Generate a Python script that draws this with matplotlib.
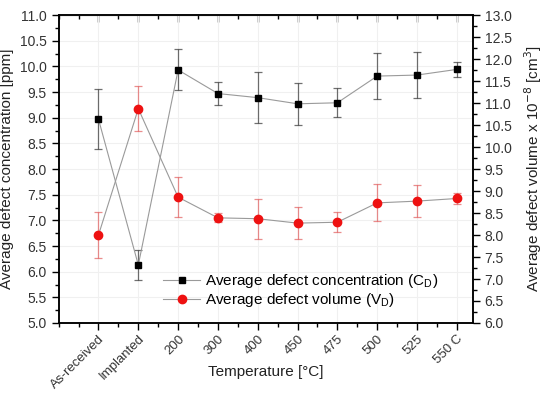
import numpy as np
import matplotlib
matplotlib.use("Agg")
import matplotlib.pyplot as plt
import matplotlib.transforms as mtransforms
from matplotlib.ticker import MultipleLocator, FormatStrFormatter

plt.rcParams['font.family'] = ['Liberation Sans', 'DejaVu Sans']

labels = ['As-received', 'Implanted', '200', '300', '400', '450', '475', '500', '525', '550 C']

# average defect concentration C_D [ppm] (left axis)
conc = [8.97, 6.13, 9.93, 9.47, 9.39, 9.27, 9.29, 9.81, 9.83, 9.94]
conc_err = [0.59, 0.29, 0.40, 0.23, 0.50, 0.41, 0.28, 0.45, 0.45, 0.15]

# average defect volume V_D x 1e-8 cm^3 (right axis)
vol = [8.00, 10.87, 8.86, 8.39, 8.37, 8.27, 8.29, 8.73, 8.77, 8.83]
vol_err = [0.52, 0.51, 0.45, 0.10, 0.45, 0.37, 0.23, 0.42, 0.36, 0.12]

x = np.arange(len(labels))

fig = plt.figure(figsize=(5.5, 3.97), dpi=100)
ax = fig.add_axes([0.1067, 0.1864, 0.7528, 0.7758])
ax2 = ax.twinx()

# error bars first (faint), then lines and markers
ax.errorbar(x, conc, yerr=conc_err, fmt='none', ecolor='#333333', elinewidth=0.9,
            capsize=3, capthick=0.9, alpha=0.7, zorder=2)
l1, = ax.plot(x, conc, color='#9a9a9a', lw=0.8, marker='s', ms=4.5,
              mfc='black', mec='black', zorder=3,
              label='Average defect concentration (C$_\\mathregular{D}$)')

ax2.errorbar(x, vol, yerr=vol_err, fmt='none', ecolor='#e05050', elinewidth=0.9,
             capsize=3, capthick=0.9, alpha=0.65, zorder=2)
l2, = ax2.plot(x, vol, color='#9a9a9a', lw=0.8, marker='o', ms=6,
               mfc='#ee1111', mec='#ee1111', zorder=3,
               label='Average defect volume (V$_\\mathregular{D}$)')

ax.set_xlim(-1, 9.4)
ax.set_ylim(5.0, 11.0)
ax2.set_ylim(6.0, 13.0)

ax.set_xticks(x)
ax.set_xticklabels(labels, rotation=45, ha='right', rotation_mode='anchor')
shift = mtransforms.ScaledTranslation(0.12, -0.03, fig.dpi_scale_trans)
for lab in ax.get_xticklabels():
    lab.set_transform(lab.get_transform() + shift)
ax.xaxis.set_minor_locator(MultipleLocator(0.5))
ax.yaxis.set_major_locator(MultipleLocator(0.5))
ax.yaxis.set_minor_locator(MultipleLocator(0.25))
ax2.yaxis.set_major_locator(MultipleLocator(0.5))
ax2.yaxis.set_minor_locator(MultipleLocator(0.25))
ax.yaxis.set_major_formatter(FormatStrFormatter('%.1f'))
ax2.yaxis.set_major_formatter(FormatStrFormatter('%.1f'))

ax.tick_params(axis='y', which='major', length=5, width=1, labelsize=10,
               labelcolor='#333333', direction='out')
ax.tick_params(axis='y', which='minor', length=3, width=1, direction='out')
ax.tick_params(axis='x', which='major', length=5, width=1, labelsize=9.5,
               labelcolor='#333333', direction='out', pad=2)
ax.tick_params(axis='x', which='minor', length=3, width=1, direction='out')
ax2.tick_params(axis='y', which='major', length=5, width=1, labelsize=10,
                labelcolor='#333333', direction='out')
ax2.tick_params(axis='y', which='minor', length=3, width=1, direction='out')

# top axis ticks pointing inward
top = ax.secondary_xaxis('top')
top.set_xticks(x)
top.xaxis.set_minor_locator(MultipleLocator(0.5))
top.tick_params(which='major', direction='in', length=5, width=1, labeltop=False)
top.tick_params(which='minor', direction='in', length=3, width=1)
top.set_xticklabels([])

# light grid
ax.grid(True, which='major', color='#f0f0f0', lw=0.8)
ax.set_axisbelow(True)

for a in (ax, ax2):
    for s in a.spines.values():
        s.set_linewidth(1.1)

ax.set_xlabel('Temperature [°C]', fontsize=11, color='#222222')
ax.xaxis.set_label_coords(0.5, -0.135)
ax.set_ylabel('Average defect concentration [ppm]', fontsize=11, color='#222222')
ax2.set_ylabel('Average defect volume x 10$^{-8}$ [cm$^3$]', fontsize=11,
               color='#222222', rotation=90, labelpad=8)

ax2.legend(handles=[l1, l2], loc='lower left', bbox_to_anchor=(0.238, 0.025),
           frameon=False, fontsize=11, handlelength=2.4, handletextpad=0.3,
           labelspacing=0.05, borderaxespad=0)

fig.savefig('out.png', dpi=100)
